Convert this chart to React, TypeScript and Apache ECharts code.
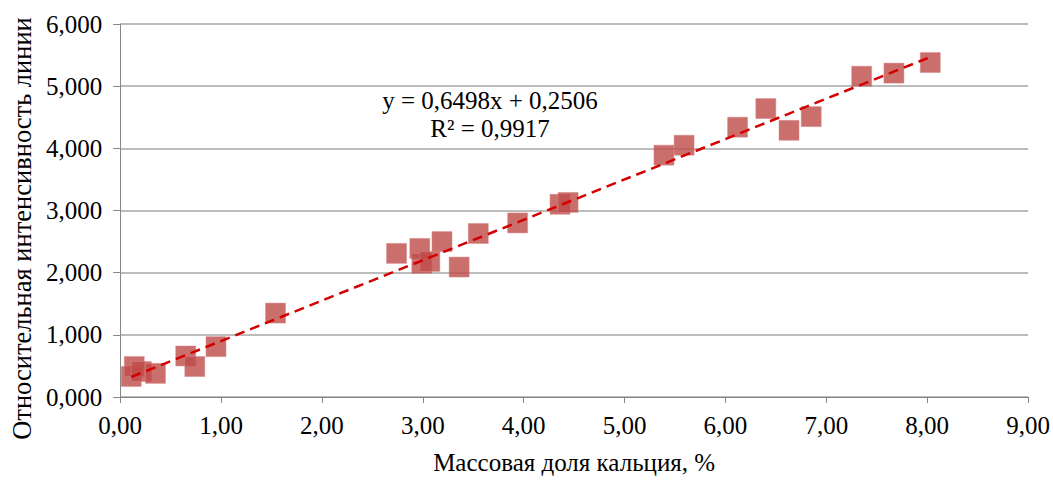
import React, { useEffect, useRef } from "react";
import * as echarts from "echarts";

const xValues = [0.11, 0.14, 0.21, 0.35, 0.65, 0.74, 0.95, 1.54, 2.74, 2.97, 2.99, 3.07, 3.19, 3.36, 3.55, 3.94, 4.36, 4.44, 5.39, 5.59, 6.12, 6.40, 6.63, 6.85, 7.35, 7.67, 8.03];
const yValues = [0.33, 0.49, 0.41, 0.38, 0.66, 0.49, 0.81, 1.35, 2.31, 2.39, 2.15, 2.18, 2.50, 2.09, 2.63, 2.80, 3.10, 3.13, 3.89, 4.05, 4.34, 4.64, 4.29, 4.51, 5.16, 5.21, 5.38];
const slope = 0.6498;
const intercept = 0.2506;
const equationLines = ["y = 0,6498x + 0,2506", "R² = 0,9917"];
const xTitle = "Массовая доля кальция, %";
const yTitle = "Относительная интенсивность линии";

export default function App() {
  const ref = useRef<HTMLDivElement>(null);
  useEffect(() => {
    if (!ref.current) return;
    const chart = echarts.init(ref.current, null, { renderer: "svg" });
    const points = xValues.map((x, i) => [x, yValues[i]]);
    const xmin = Math.min(...xValues);
    const xmax = Math.max(...xValues);
    const trend = [xmin, xmax].map((x) => [x, slope * x + intercept]);
    const font = "Liberation Serif";
    chart.setOption({
      animation: false,
      backgroundColor: "#ffffff",
      textStyle: { fontFamily: font },
      grid: { left: 114, right: 24, top: 24, bottom: 77, containLabel: false },
      xAxis: {
        type: "value",
        min: 0,
        max: 9,
        interval: 1,
        name: xTitle,
        nameLocation: "middle",
        nameGap: 53,
        nameTextStyle: { fontFamily: font, fontSize: 25, color: "#000" },
        axisLine: { show: true, lineStyle: { color: "#868686", width: 1 } },
        axisTick: { show: true, length: 6, lineStyle: { color: "#868686" } },
        axisLabel: {
          fontFamily: font,
          fontSize: 25,
          color: "#000",
          margin: 16,
          formatter: (v: number) => v.toFixed(2).replace(".", ","),
        },
        splitLine: { show: false },
      },
      yAxis: {
        type: "value",
        min: 0,
        max: 6,
        interval: 1,
        name: yTitle,
        nameLocation: "middle",
        nameGap: 78,
        nameRotate: 90,
        nameTextStyle: { fontFamily: font, fontSize: 26.5, color: "#000", padding: [0, 36, 0, 0] },
        axisLine: { show: true, lineStyle: { color: "#868686", width: 1 } },
        axisTick: { show: true, length: 7, lineStyle: { color: "#868686" } },
        axisLabel: {
          fontFamily: font,
          fontSize: 25,
          color: "#000",
          margin: 18,
          formatter: (v: number) => v.toFixed(3).replace(".", ","),
        },
        splitLine: { show: true, lineStyle: { color: "#a6a6a6", width: 1.5 } },
      },
      series: [
        {
          type: "line",
          data: trend,
          symbol: "none",
          lineStyle: { color: "#d40000", width: 2.5, type: [10, 6] },
          z: 3,
          silent: true,
        },
        {
          type: "scatter",
          data: points,
          symbol: "rect",
          symbolSize: 20,
          itemStyle: { color: "#be4b48", borderColor: "#d58a88", borderWidth: 0.6 },
          z: 2,
        },
      ],
      graphic: [
        {
          type: "text",
          x: 490,
          y: 86,
          style: {
            text: equationLines.join("\n"),
            fontFamily: font,
            fontSize: 25,
            lineHeight: 28,
            align: "center",
            verticalAlign: "top",
            fill: "#000",
          },
        },
      ],
    });
    return () => chart.dispose();
  }, []);
  return <div ref={ref} style={{ width: 1053, height: 480, position: "absolute", left: 0, top: 0 }} />;
}
